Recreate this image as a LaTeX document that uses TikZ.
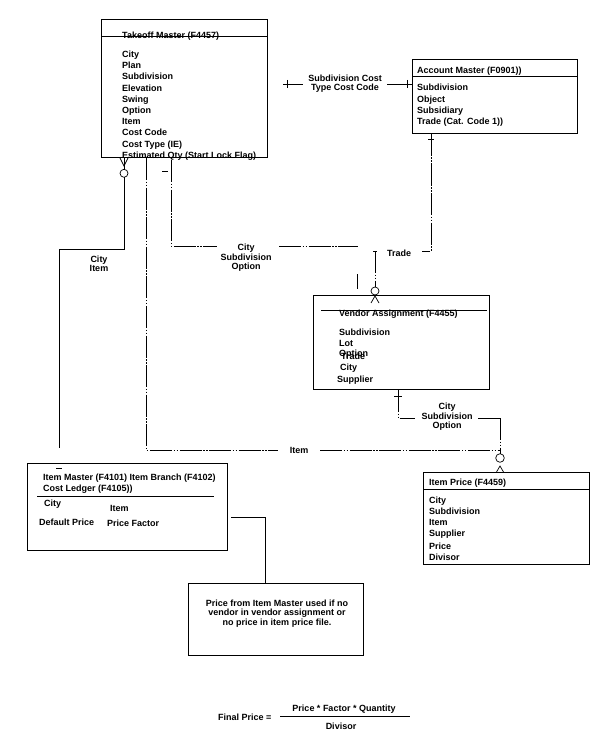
\documentclass[tikz,border=0pt]{standalone}
\usepackage{fontspec}
\setmainfont{Liberation Sans}
\usetikzlibrary{calc}
\begin{document}
\begin{tikzpicture}[x=1pt,y=-1pt,
  every node/.style={inner sep=0pt, font=\fontsize{9}{11}\selectfont\bfseries},
  box/.style={draw, line width=0.9pt, anchor=north west},
  lbl/.style={anchor=base west},
  clbl/.style={anchor=base},
  rel/.style={line width=0.9pt},
  dd/.style={line width=0.9pt, dash pattern=on 22pt off 1.6pt on 1.4pt off 1.6pt on 1.4pt off 1.6pt},
]
\useasboundingbox (0,0) rectangle (609,746);

% ---------- boxes ----------
\node[box, minimum width=166pt, minimum height=138pt] (tm) at (101,19) {};
\node[box, minimum width=165pt, minimum height=74pt]  (am) at (412,59) {};
\node[box, minimum width=176pt, minimum height=94pt]  (va) at (313,295) {};
\node[box, minimum width=166pt, minimum height=92pt]  (ip) at (423,472) {};
\node[box, minimum width=200pt, minimum height=87pt]  (im) at (27,463) {};
\node[box, minimum width=175pt, minimum height=72pt]  (nt) at (188,583) {};

% header lines
\draw[rel] ($(tm.north west)+(0,17)$) -- ($(tm.north east)+(0,17)$);
\draw[rel] ($(am.north west)+(0,17)$) -- ($(am.north east)+(0,17)$);
\draw[rel] ($(va.north west)+(8,15)$) -- ($(va.north east)+(-3,15)$);
\draw[rel] ($(ip.north west)+(0,17)$) -- ($(ip.north east)+(0,17)$);
\draw[rel] ($(im.north west)+(10,33)$) -- ($(im.north east)+(-14,33)$);

% ---------- Takeoff Master ----------
\node[lbl] (tmt) at (122,39) {Takeoff Master (F4457)};
\foreach \t [count=\i from 0] in {City,Plan,Subdivision,Elevation,Swing,Option,Item,Cost Code,Cost Type (IE),Estimated Qty (Start Lock Flag)}
  \node[lbl] (tmi\i) at (122,57.6+11.2*\i) {\t};

% ---------- Account Master ----------
\node[lbl] (amt) at (417,73.3) {Account Master (F0901))};
\foreach \t [count=\i from 0] in {Subdivision,Object,Subsidiary,Trade (Cat. Code 1))}
  \node[lbl] (ami\i) at (417,91+11.3*\i) {\t};

% ---------- Vendor Assignment ----------
\node[lbl] (vat) at (339,316.3) {Vendor Assignment (F4455)};
\node[lbl] (va1) at (339,335.5) {Subdivision};
\node[lbl] (va2) at (339,346.3) {Lot};
\node[lbl] (va3) at (339,356.6) {Option};
\node[lbl] (va4) at (341,359.3) {Trade};
\node[lbl] (va5) at (340,370) {City};
\node[lbl] (va6) at (337,382.6) {Supplier};

% ---------- Item Price ----------
\node[lbl] (ipt) at (429,485.5) {Item Price (F4459)};
\node[lbl] (ip1) at (429,503.3) {City};
\node[lbl] (ip2) at (429,514.2) {Subdivision};
\node[lbl] (ip3) at (429,525.1) {Item};
\node[lbl] (ip4) at (429,536.1) {Supplier};
\node[lbl] (ip5) at (429,549.4) {Price};
\node[lbl] (ip6) at (429,560.1) {Divisor};

% ---------- Item Master ----------
\node[lbl] (imt1) at (43,480.3) {Item Master (F4101) Item Branch (F4102)};
\node[lbl] (imt2) at (43,491.6) {Cost Ledger (F4105))};
\node[lbl] (im1) at (44,506.6) {City};
\node[lbl] (im2) at (110,511) {Item};
\node[lbl] (im3) at (39,525) {Default Price};
\node[lbl] (im4) at (107,526) {Price Factor};
\draw[rel] (56,468) -- (62,468);

% ---------- Note ----------
\node[clbl] (nt1) at (277,606.6) {Price from Item Master used if no};
\node[clbl] (nt2) at (277,615.6) {vendor in vendor assignment or};
\node[clbl] (nt3) at (277,625) {no price in item price file.};

% ---------- Final price ----------
\node[lbl] (fp) at (218,720) {Final Price =};
\node[clbl] (fpn) at (344,711) {Price * Factor * Quantity};
\node[clbl] (fpd) at (341,729.5) {Divisor};
\coordinate (fl1) at (280,716);
\coordinate (fl2) at (410,716);
\draw[rel] (fl1) -- (fl2);

% ---------- relation labels ----------
\node[clbl] (l1a) at (345,81.3) {Subdivision Cost};
\node[clbl] (l1b) at (345,90.3) {Type Cost Code};
\node[clbl] (l2a) at (246,250) {City};
\node[clbl] (l2b) at (246,260) {Subdivision};
\node[clbl] (l2c) at (246,269) {Option};
\node[clbl] (l3a) at (99,262.3) {City};
\node[clbl] (l3b) at (99,271) {Item};
\node[clbl] (l4) at (399,256.6) {Trade};
\node[clbl] (l5a) at (447,409.3) {City};
\node[clbl] (l5b) at (447,419) {Subdivision};
\node[clbl] (l5c) at (447,428) {Option};
\node[clbl] (l6) at (299,453.3) {Item};

% ---------- connectors ----------
% Takeoff -- Account
\coordinate (c1a) at (283,84);
\coordinate (c1b) at (303,84);
\coordinate (c1c) at (387,84);
\coordinate (c1d) at ($(am.north west)+(0,25)$);
\draw[rel] (c1a) -- (c1b);
\draw[rel] (287,80) -- (287,88);
\draw[rel] (c1c) -- (c1d);
\draw[rel] (407,80) -- (407,88);

% Account -- Vendor (Trade)
\coordinate (c2a) at ($(am.south west)+(19,0)$);
\coordinate (c2b) at (431,251);
\coordinate (c2c) at (422,251);
\draw[dd] (c2a) -- (c2b) -- (c2c);
\draw[rel] (428,139) -- (434,139);
\coordinate (c2d) at (375,251);
\coordinate (c2e) at (375,287);
\draw[rel] (373,251) -- (377,251);
\draw[dd] (c2d) -- (c2e);
\draw[line width=0.7pt] (375,291) circle (4);
\draw[line width=0.7pt] (371,303) -- (375,296) -- (379,303);

% Takeoff -- Vendor (City Subdivision Option)
\coordinate (c3a) at (171,160);
\coordinate (c3b) at (171,246);
\coordinate (c3c) at (217,246);
\coordinate (c3d) at (279,246);
\coordinate (c3e) at (358,246);
\draw[dd] (c3a) -- (c3b) -- (c3c);
\draw[dd] (c3d) -- (c3e);
\draw[rel] (162,171.5) -- (168,171.5);
\draw[rel] (357,274) -- (357,289);

% Takeoff -- Item Master (City Item)
\coordinate (c4a) at ($(tm.south west)+(23,0)$);
\coordinate (c4b) at (124,177.5);
\coordinate (c4c) at (124,249);
\coordinate (c4d) at (59,249);
\coordinate (c4e) at (59,448);
\draw[line width=0.7pt] (120,158) -- (124,166) -- (128,158);
\draw[line width=0.7pt] (c4a) -- (124,169);
\draw[line width=0.7pt] (124,173.3) circle (4);
\draw[rel] (c4b) -- (c4c) -- (c4d) -- (c4e);

% Takeoff -- Item Price (Item)
\coordinate (c5a) at ($(tm.south west)+(45,0)$);
\coordinate (c5b) at (146,450);
\coordinate (c5c) at (278,450);
\coordinate (c5d) at (320,450);
\coordinate (c5e) at (500,450);
\draw[dd] (c5a) -- (c5b) -- (c5c);
\draw[dd] (c5d) -- (c5e);

% Vendor -- Item Price (City Subdivision Option)
\coordinate (c6a) at ($(va.south west)+(85,0)$);
\coordinate (c6b) at (398,418);
\coordinate (c6c) at (415,418);
\coordinate (c6d) at (478,418);
\coordinate (c6e) at (500,418);
\coordinate (c6f) at (500,453.7);
\draw[dd] (c6a) -- (c6b) -- (c6c);
\draw[rel] (394,396) -- (402,396);
\draw[rel] (c6d) -- (c6e);
\draw[dd] (c6e) -- (c6f);
\draw[line width=0.7pt] (500,458) circle (4.3);
\draw[line width=0.7pt] (496.5,472) -- (500,466) -- (503.5,472);

% Item Master -- Note
\coordinate (c7a) at (231,517);
\coordinate (c7b) at (265,517);
\coordinate (c7c) at (nt.north west -| c7b);
\draw[rel] (c7a) -- (c7b) -- (c7c);

\end{tikzpicture}
\end{document}
